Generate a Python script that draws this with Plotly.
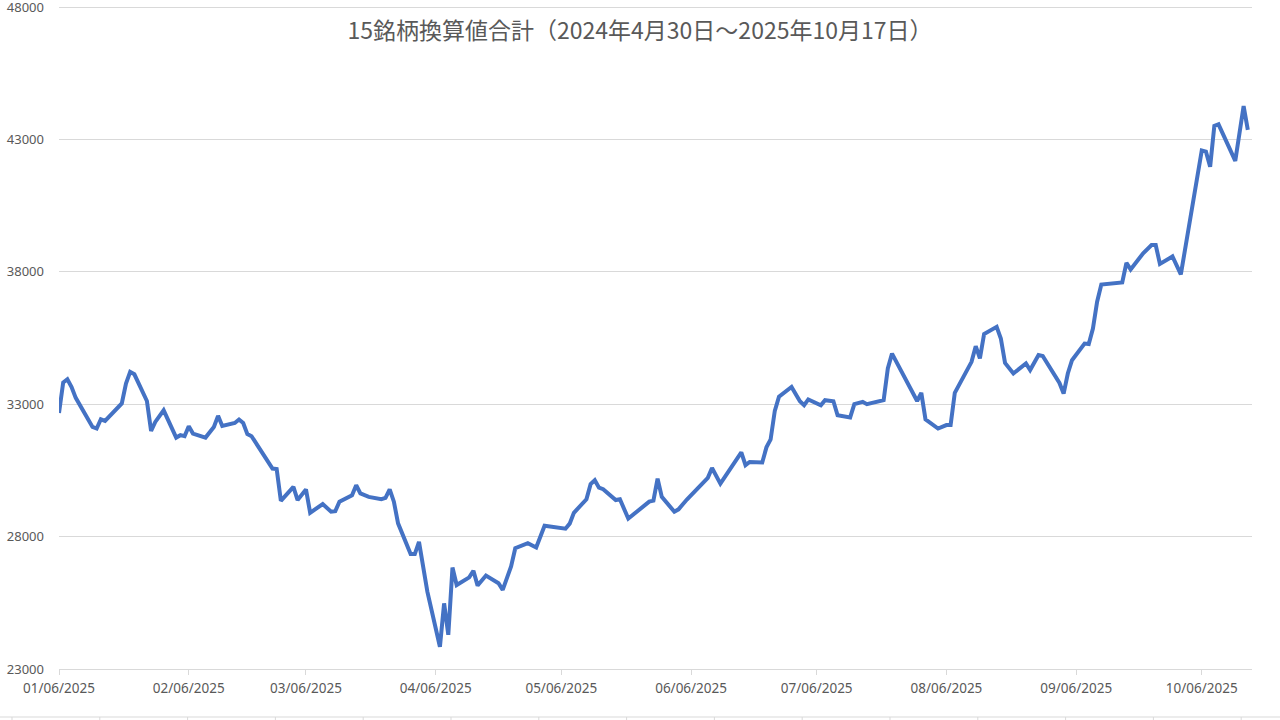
import plotly.graph_objects as go

TITLE = "15銘柄換算値合計（2024年4月30日～2025年10月17日）"

dates = [
    "2025-01-06", "2025-01-07", "2025-01-08", "2025-01-09", "2025-01-10",
    "2025-01-14", "2025-01-15", "2025-01-16", "2025-01-17", "2025-01-20",
    "2025-01-21", "2025-01-22", "2025-01-23", "2025-01-24", "2025-01-27",
    "2025-01-28", "2025-01-29", "2025-01-31", "2025-02-03", "2025-02-04",
    "2025-02-05", "2025-02-06", "2025-02-07", "2025-02-10", "2025-02-12",
    "2025-02-13", "2025-02-14", "2025-02-17", "2025-02-18", "2025-02-19",
    "2025-02-20", "2025-02-21", "2025-02-26", "2025-02-27", "2025-02-28",
    "2025-03-03", "2025-03-04", "2025-03-06", "2025-03-07", "2025-03-10",
    "2025-03-11", "2025-03-12", "2025-03-13", "2025-03-14", "2025-03-17",
    "2025-03-18", "2025-03-19", "2025-03-21", "2025-03-24", "2025-03-25",
    "2025-03-26", "2025-03-27", "2025-03-28", "2025-03-31", "2025-04-01",
    "2025-04-02", "2025-04-04", "2025-04-07", "2025-04-08", "2025-04-09",
    "2025-04-10", "2025-04-11", "2025-04-14", "2025-04-15", "2025-04-16",
    "2025-04-18", "2025-04-21", "2025-04-22", "2025-04-23", "2025-04-24",
    "2025-04-25", "2025-04-28", "2025-04-30", "2025-05-02", "2025-05-07",
    "2025-05-08", "2025-05-09", "2025-05-12", "2025-05-13", "2025-05-14",
    "2025-05-15", "2025-05-16", "2025-05-19", "2025-05-20", "2025-05-22",
    "2025-05-27", "2025-05-28", "2025-05-29", "2025-05-30", "2025-06-02",
    "2025-06-03", "2025-06-05", "2025-06-10", "2025-06-11", "2025-06-13",
    "2025-06-18", "2025-06-19", "2025-06-20", "2025-06-23", "2025-06-24",
    "2025-06-25", "2025-06-26", "2025-06-27", "2025-06-30", "2025-07-02",
    "2025-07-03", "2025-07-04", "2025-07-07", "2025-07-08", "2025-07-10",
    "2025-07-11", "2025-07-14", "2025-07-15", "2025-07-17", "2025-07-18",
    "2025-07-22", "2025-07-23", "2025-07-24", "2025-07-30", "2025-07-31",
    "2025-08-01", "2025-08-04", "2025-08-06", "2025-08-07", "2025-08-08",
    "2025-08-12", "2025-08-13", "2025-08-14", "2025-08-15", "2025-08-18",
    "2025-08-19", "2025-08-20", "2025-08-22", "2025-08-25", "2025-08-26",
    "2025-08-28", "2025-08-29", "2025-09-02", "2025-09-03", "2025-09-04",
    "2025-09-05", "2025-09-08", "2025-09-09", "2025-09-10", "2025-09-11",
    "2025-09-12", "2025-09-17", "2025-09-18", "2025-09-19", "2025-09-22",
    "2025-09-24", "2025-09-25", "2025-09-26", "2025-09-29", "2025-10-01",
    "2025-10-06", "2025-10-07", "2025-10-08", "2025-10-09", "2025-10-10",
    "2025-10-14", "2025-10-15", "2025-10-16", "2025-10-17",
]

totals = [
    32670, 33820, 33940, 33650, 33240,
    32140, 32080, 32430, 32370, 32900,
    33030, 33780, 34220, 34130, 33120,
    31990, 32330, 32770, 31740, 31830,
    31790, 32170, 31890, 31740, 32140,
    32560, 32180, 32290, 32420, 32290,
    31870, 31790, 30570, 30550, 29350,
    29880, 29380, 29780, 28900, 29230,
    29100, 28940, 28960, 29320, 29560,
    29940, 29630, 29500, 29410, 29460,
    29780, 29320, 28500, 27340, 27340,
    27800, 25920, 23840, 25480, 24290,
    26830, 26170, 26460, 26710, 26150,
    26530, 26240, 25990, 26430, 26870,
    27560, 27750, 27590, 28410, 28300,
    28490, 28900, 29410, 29980, 30130,
    29850, 29790, 29380, 29410, 28680,
    29320, 29360, 30190, 29500, 28940,
    29030, 29400, 30220, 30590, 30000,
    31180, 30700, 30820, 30800, 31370,
    31670, 32750, 33280, 33650, 33110,
    32960, 33180, 32960, 33150, 33110,
    32580, 32500, 33000, 33090, 33000,
    33150, 34350, 34910, 33120, 33430,
    32430, 32080, 32210, 32210, 33430,
    34600, 35190, 34730, 35650, 35920,
    35480, 34560, 34160, 34540, 34290,
    34860, 34820, 33800, 33400, 34160,
    34660, 35290, 35270, 35860, 36870,
    37520, 37600, 38340, 38090, 38700,
    39010, 39010, 38300, 38580, 37900,
    42580, 42540, 41970, 43510, 43570,
    42190, 43230, 44260, 43360,
]

tick_dates = [
    "2025-01-06", "2025-02-06", "2025-03-06", "2025-04-06", "2025-05-06",
    "2025-06-06", "2025-07-06", "2025-08-06", "2025-09-06", "2025-10-06",
]
tick_labels = [
    "01/06/2025", "02/06/2025", "03/06/2025", "04/06/2025", "05/06/2025",
    "06/06/2025", "07/06/2025", "08/06/2025", "09/06/2025", "10/06/2025",
]
y_ticks = [23000, 28000, 33000, 38000, 43000, 48000]

GRID = "#d9d9d9"
TEXT = "#595959"

fig = go.Figure()
fig.add_scatter(
    x=dates, y=totals, mode="lines",
    line=dict(color="#4472c4", width=4),
    showlegend=False, hoverinfo="x+y",
)

# plot top sits 1px above the 48000 gridline so plotly keeps that gridline
fig.update_layout(
    width=1280, height=720,
    margin=dict(l=59, r=28, t=6, b=51),
    paper_bgcolor="white", plot_bgcolor="white",
    font=dict(family="Noto Sans, Liberation Sans, sans-serif", color=TEXT),
    title=dict(
        text=TITLE, x=0.5, xanchor="center", y=0.957, yanchor="middle",
        yref="container",
        font=dict(family="Noto Sans CJK JP, Noto Sans, sans-serif", size=23, color=TEXT),
    ),
)
fig.update_xaxes(
    type="date", range=["2025-01-06", "2025-10-18"],
    tickmode="array", tickvals=tick_dates, ticktext=tick_labels,
    showgrid=False, showline=True, linecolor=GRID, linewidth=1,
    ticks="outside", ticklen=5, tickcolor=GRID,
    tickfont=dict(size=13.5, color=TEXT), ticklabelstandoff=2,
    zeroline=False, automargin=False,
)
fig.update_yaxes(
    range=[23000, 48038], tickmode="array", tickvals=y_ticks,
    ticktext=[str(v) for v in y_ticks],
    showgrid=True, gridcolor=GRID, gridwidth=1,
    showline=False, zeroline=False, ticks="",
    tickfont=dict(size=13, color=TEXT), ticklabelstandoff=14,
    ticklabeloverflow="allow", automargin=False,
)

# faint sheet cell border visible along the bottom edge of the screenshot
plot_w = 1280 - 59 - 28
plot_h = 720 - 6 - 51
y_line = -(717 - 669) / plot_h
fig.add_shape(type="line", xref="paper", yref="paper",
              x0=-59 / plot_w, x1=(1280 - 59) / plot_w, y0=y_line, y1=y_line,
              line=dict(color=GRID, width=1))
for k in range(15):
    px = 12 + 87.8 * k
    fig.add_shape(type="line", xref="paper", yref="paper",
                  x0=(px - 59) / plot_w, x1=(px - 59) / plot_w,
                  y0=y_line, y1=-(722 - 669) / plot_h,
                  line=dict(color=GRID, width=1))

# the page body has a default 8px margin; drop it so the figure fills the window
fig.write_html("out.html", config={"displayModeBar": False},
               post_script="document.body.style.margin='0';")
